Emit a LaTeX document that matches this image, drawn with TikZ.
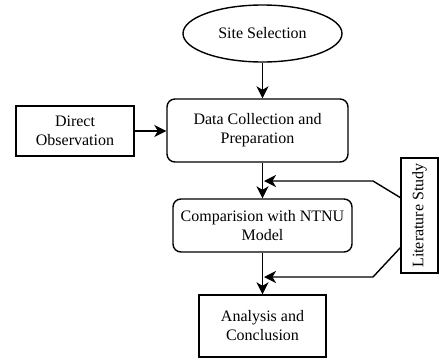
\documentclass[tikz,border=0pt]{standalone}
\usepackage{fontspec}
\setmainfont{Liberation Serif}
\usetikzlibrary{arrows.meta,shapes.geometric}
\begin{document}
\begin{tikzpicture}[x=1pt,y=-1pt,
  every node/.style={font=\rmfamily\fontsize{16}{19}\selectfont, align=center, inner sep=0pt, line width=1.4pt},
  box/.style={draw, rectangle},
  rbox/.style={draw, rectangle, rounded corners=8pt},
  conn/.style={line width=1.4pt, -{Stealth[length=12pt,width=12pt,inset=3.5pt]}}]
\useasboundingbox (0,0) rectangle (440,360);
\node[draw, ellipse, minimum width=159pt, minimum height=57pt] (site) at (262.5,33.5) {Site Selection};
\node[rbox, minimum width=181pt, minimum height=63pt] (data) at (257.5,130.5) {Data Collection and\\Preparation};
\node[box, minimum width=118pt, minimum height=50pt] (direct) at (75,131) {Direct\\Observation};
\node[rbox, minimum width=179pt, minimum height=53pt] (comp) at (262.5,225.5) {Comparision with NTNU\\Model};
\node[box, minimum width=127pt, minimum height=62pt] (anal) at (262.5,326) {Analysis and\\Conclusion};
\node[box, minimum width=115pt, minimum height=37pt, rotate=90] (lit) at (419.5,215.5) {Literature Study};
\coordinate (f1) at (401,198);
\coordinate (f2) at (401,247);
\coordinate (b1) at (373,181);
\coordinate (b2) at (373,277);
\coordinate (t1) at (264,181);
\coordinate (t2) at (264,277);
\draw[conn] (site.south) -- (site.south |- data.north);
\draw[conn] (direct.east) -- (direct.east -| data.west);
\draw[conn] (comp.north |- data.south) -- (comp.north);
\draw[conn] (comp.south) -- (comp.south |- anal.north);
\draw[conn] (f1) -- (b1) -- (t1);
\draw[conn] (f2) -- (b2) -- (t2);
\end{tikzpicture}
\end{document}
